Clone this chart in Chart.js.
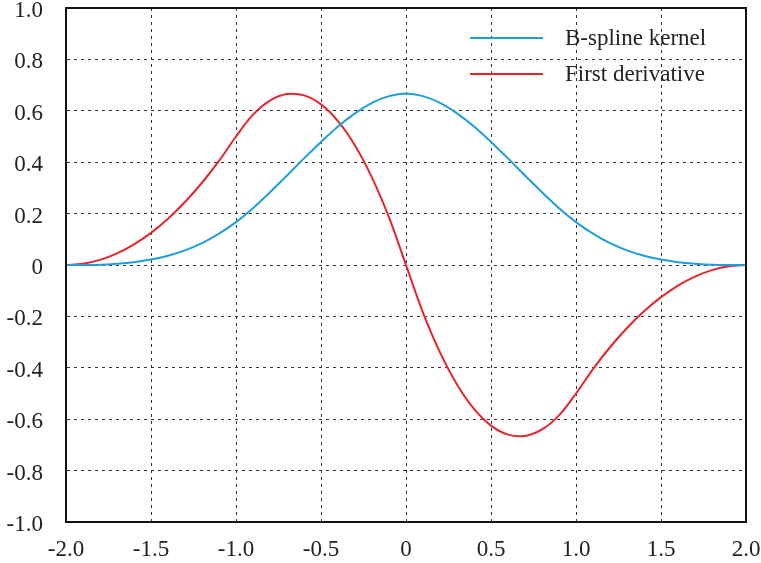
<!DOCTYPE html>
<html>
<head>
<meta charset="utf-8">
<script src="https://cdn.jsdelivr.net/npm/chart.js@4/dist/chart.umd.min.js"></script>
<style>
  html, body { margin: 0; padding: 0; background: #fff; }
  #wrap { width: 761px; height: 563px; }
</style>
</head>
<body>
<div id="wrap"><canvas id="c" width="761" height="563"></canvas></div>
<script>
// Sample positions along the x axis
const xValues = [
  -2.0, -1.9, -1.8, -1.7, -1.6, -1.5, -1.4, -1.3, -1.2, -1.1,
  -1.0, -0.9, -0.8, -0.7, -0.6, -0.5, -0.4, -0.3, -0.2, -0.1,
   0.0,  0.1,  0.2,  0.3,  0.4,  0.5,  0.6,  0.7,  0.8,  0.9,
   1.0,  1.1,  1.2,  1.3,  1.4,  1.5,  1.6,  1.7,  1.8,  1.9, 2.0
];

// Cubic B-spline kernel
const kernelValues = [
  0.000, 0.000, 0.001, 0.005, 0.011, 0.021, 0.036, 0.057, 0.085, 0.122,
  0.167, 0.221, 0.283, 0.348, 0.415, 0.479, 0.539, 0.590, 0.631, 0.657,
  0.667, 0.657, 0.631, 0.590, 0.539, 0.479, 0.415, 0.348, 0.283, 0.221,
  0.167, 0.122, 0.085, 0.057, 0.036, 0.021, 0.011, 0.005, 0.001, 0.000, 0.000
];

// Its first derivative
const derivativeValues = [
  0.000, 0.005, 0.020, 0.045, 0.080, 0.125, 0.180, 0.245, 0.320, 0.405,
  0.500, 0.585, 0.640, 0.665, 0.660, 0.625, 0.560, 0.465, 0.340, 0.185,
  0.000, -0.185, -0.340, -0.465, -0.560, -0.625, -0.660, -0.665, -0.640, -0.585,
  -0.500, -0.405, -0.320, -0.245, -0.180, -0.125, -0.080, -0.045, -0.020, -0.005, 0.000
];

const seriesNames = ['B-spline kernel', 'First derivative'];
const seriesColors = ['#1f9fd9', '#e4262c'];

const xTicks = [-2.0, -1.5, -1.0, -0.5, 0, 0.5, 1.0, 1.5, 2.0];
const yTicks = [-1.0, -0.8, -0.6, -0.4, -0.2, 0, 0.2, 0.4, 0.6, 0.8, 1.0];

const FONT = 'Liberation Serif, Times New Roman, serif';
const FONT_SIZE = 23;
const fmt = v => (Math.abs(v) < 1e-9 ? '0' : v.toFixed(1));

const toPoints = ys => xValues.map((x, i) => ({ x: x, y: ys[i] }));

// Frame around the plotting area
const framePlugin = {
  id: 'frame',
  afterDraw(chart) {
    const { ctx, chartArea: a } = chart;
    ctx.save();
    ctx.strokeStyle = '#111';
    ctx.lineWidth = 2;
    ctx.strokeRect(a.left, a.top, a.right - a.left, a.bottom - a.top);
    ctx.restore();
  }
};

// Legend drawn inside the plot, upper right
const insideLegend = {
  id: 'insideLegend',
  afterDraw(chart) {
    const { ctx } = chart;
    const lineX0 = 470, lineX1 = 543, textX = 565;
    const rows = [38, 74];
    ctx.save();
    ctx.font = FONT_SIZE + 'px ' + FONT;
    ctx.textBaseline = 'middle';
    ctx.textAlign = 'left';
    chart.data.datasets.forEach((ds, i) => {
      const y = rows[i];
      ctx.strokeStyle = ds.borderColor;
      ctx.lineWidth = 2;
      ctx.beginPath();
      ctx.moveTo(lineX0, y);
      ctx.lineTo(lineX1, y);
      ctx.stroke();
      ctx.fillStyle = '#222';
      ctx.fillText(ds.label, textX, y + 1);
    });
    ctx.restore();
  }
};

new Chart(document.getElementById('c'), {
  type: 'line',
  data: {
    datasets: [
      { label: seriesNames[0], data: toPoints(kernelValues), borderColor: seriesColors[0] },
      { label: seriesNames[1], data: toPoints(derivativeValues), borderColor: seriesColors[1] }
    ]
  },
  options: {
    responsive: false,
    animation: false,
    devicePixelRatio: 1,
    layout: { padding: { left: 0, top: 8, right: 15, bottom: 0 } },
    elements: {
      point: { radius: 0 },
      line: { borderWidth: 2, tension: 0.35, fill: false }
    },
    plugins: {
      legend: { display: false },
      tooltip: { enabled: false }
    },
    scales: {
      x: {
        type: 'linear',
        min: -2, max: 2,
        afterBuildTicks: s => { s.ticks = xTicks.map(v => ({ value: v })); },
        afterFit: s => { s.height = 41; s.paddingLeft = 0; s.paddingRight = 0; },
        ticks: {
          callback: v => fmt(v),
          font: { family: FONT, size: FONT_SIZE },
          color: '#222',
          padding: 14,
          maxRotation: 0
        },
        grid: { color: '#333', lineWidth: 1, drawTicks: false },
        border: { display: true, color: '#111', width: 2, dash: [3, 4] }
      },
      y: {
        type: 'linear',
        min: -1, max: 1,
        afterBuildTicks: s => { s.ticks = yTicks.map(v => ({ value: v })); },
        afterFit: s => { s.width = 66; s.paddingTop = 0; s.paddingBottom = 0; },
        ticks: {
          callback: v => fmt(v),
          font: { family: FONT, size: FONT_SIZE },
          color: '#222',
          padding: 23,
          labelOffset: 3
        },
        grid: { color: '#333', lineWidth: 1, drawTicks: false },
        border: { display: true, color: '#111', width: 2, dash: [3, 4] }
      }
    }
  },
  plugins: [framePlugin, insideLegend]
});
</script>
</body>
</html>
